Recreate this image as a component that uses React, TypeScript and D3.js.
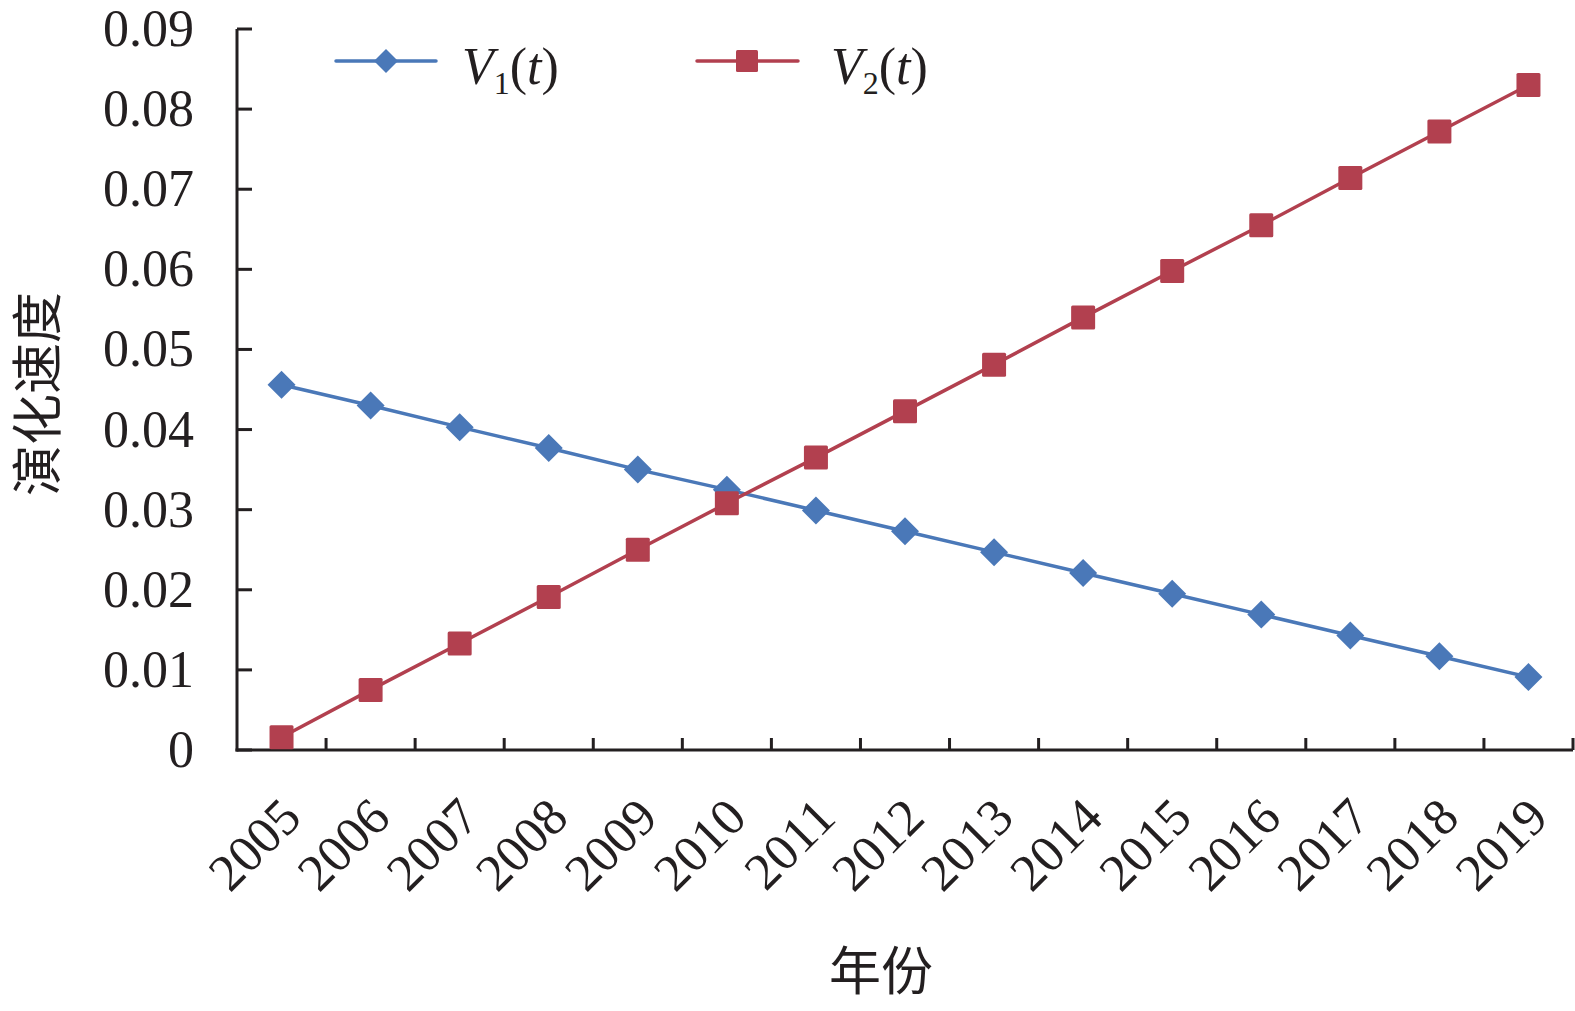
import React from "react";
import * as d3 from "d3";

const years = ["2005","2006","2007","2008","2009","2010","2011","2012","2013","2014","2015","2016","2017","2018","2019"];
const v1Values = [0.0456,0.0430,0.0403,0.0377,0.0350,0.0325,0.0299,0.0273,0.0247,0.0221,0.0195,0.0169,0.0143,0.0117,0.0091];
const v2Values = [0.0016,0.0075,0.0133,0.0191,0.0250,0.0308,0.0365,0.0423,0.0481,0.0540,0.0598,0.0655,0.0714,0.0772,0.0830];
const yTicks = [0,0.01,0.02,0.03,0.04,0.05,0.06,0.07,0.08,0.09];
const yTickLabels = ["0","0.01","0.02","0.03","0.04","0.05","0.06","0.07","0.08","0.09"];

const BLUE = "#4a78b8";
const RED = "#b2404f";
const AXIS = "#231f20";
const SERIF = "'Liberation Serif', 'Times New Roman', serif";
const CJK = "'Noto Sans CJK SC', sans-serif";

export default function App() {
  const W = 1575, H = 1011;
  const left = 237, right = 1573, top = 29, bottom = 750;
  const x = d3.scaleBand<string>().domain(years).range([left, right]).paddingInner(0).paddingOuter(0);
  const y = d3.scaleLinear().domain([0, 0.09]).range([bottom, top]);
  const cx = (yr: string) => (x(yr) as number) + x.bandwidth() / 2;
  const line = d3.line<number>().x((_, i) => cx(years[i])).y((d) => y(d));
  const ds = 14;
  const sq = 12;
  const diamond = (px: number, py: number, s: number) =>
    `M${px},${py - s}L${px + s},${py}L${px},${py + s}L${px - s},${py}Z`;

  return (
    <svg width={W} height={H} style={{ position: "absolute", left: 0, top: 0, background: "#fff" }}>
      <rect x={0} y={0} width={W} height={H} fill="#fff" />
      {/* Y axis */}
      <line x1={left} y1={top} x2={left} y2={bottom + 1.5} stroke={AXIS} strokeWidth={3} />
      {yTicks.map((t, i) => (
        <g key={"yt" + i}>
          <line x1={left} x2={left + 15} y1={y(t)} y2={y(t)} stroke={AXIS} strokeWidth={3} />
          <text x={194} y={y(t) + 17} textAnchor="end" fontFamily={SERIF} fontSize={52} fill="#231f20">
            {yTickLabels[i]}
          </text>
        </g>
      ))}
      {/* X axis */}
      <line x1={left - 1.5} y1={bottom} x2={right} y2={bottom} stroke={AXIS} strokeWidth={3} />
      {years.map((yr) => {
        const bx = (x(yr) as number) + x.bandwidth();
        return <line key={"xt" + yr} x1={bx} x2={bx} y1={bottom} y2={bottom - 12} stroke={AXIS} strokeWidth={3} />;
      })}
      {years.map((yr) => {
        const px = cx(yr) + 22;
        const py = 820;
        return (
          <text key={"xl" + yr} x={px} y={py} textAnchor="end" transform={`rotate(-45 ${px} ${py})`}
            fontFamily={SERIF} fontSize={52} fill="#231f20">
            {yr}
          </text>
        );
      })}
      {/* Axis titles */}
      <text x={0} y={0} transform={`translate(56 394) rotate(-90)`} textAnchor="middle"
        fontFamily={CJK} fontSize={51} fill="#231f20">演化速度</text>
      <text x={881} y={990} textAnchor="middle" fontFamily={CJK} fontSize={52} fill="#231f20">年份</text>

      {/* Lines */}
      <path d={line(v1Values) as string} fill="none" stroke={BLUE} strokeWidth={3.5} />
      <path d={line(v2Values) as string} fill="none" stroke={RED} strokeWidth={3.5} />
      {v1Values.map((v, i) => (
        <path key={"d" + i} d={diamond(cx(years[i]), y(v), ds)} fill={BLUE} />
      ))}
      {v2Values.map((v, i) => (
        <rect key={"s" + i} x={cx(years[i]) - sq} y={y(v) - sq} width={sq * 2} height={sq * 2} fill={RED} rx={1.5} />
      ))}

      {/* Legend */}
      <line x1={336} x2={436} y1={61} y2={61} stroke={BLUE} strokeWidth={3.5} strokeLinecap="round" />
      <path d={diamond(386, 61, 12)} fill={BLUE} />
      <text x={462} y={84} fontFamily={SERIF} fontSize={52} fill="#231f20">
        <tspan fontStyle="italic">V</tspan>
        <tspan fontSize={32} dy={10}>1</tspan>
        <tspan dy={-10}>(</tspan>
        <tspan fontStyle="italic">t</tspan>
        <tspan>)</tspan>
      </text>
      <line x1={697} x2={798} y1={61} y2={61} stroke={RED} strokeWidth={3.5} strokeLinecap="round" />
      <rect x={747 - 11} y={61 - 11} width={22} height={22} fill={RED} rx={1.5} />
      <text x={831} y={84} fontFamily={SERIF} fontSize={52} fill="#231f20">
        <tspan fontStyle="italic">V</tspan>
        <tspan fontSize={32} dy={10}>2</tspan>
        <tspan dy={-10}>(</tspan>
        <tspan fontStyle="italic">t</tspan>
        <tspan>)</tspan>
      </text>
    </svg>
  );
}
